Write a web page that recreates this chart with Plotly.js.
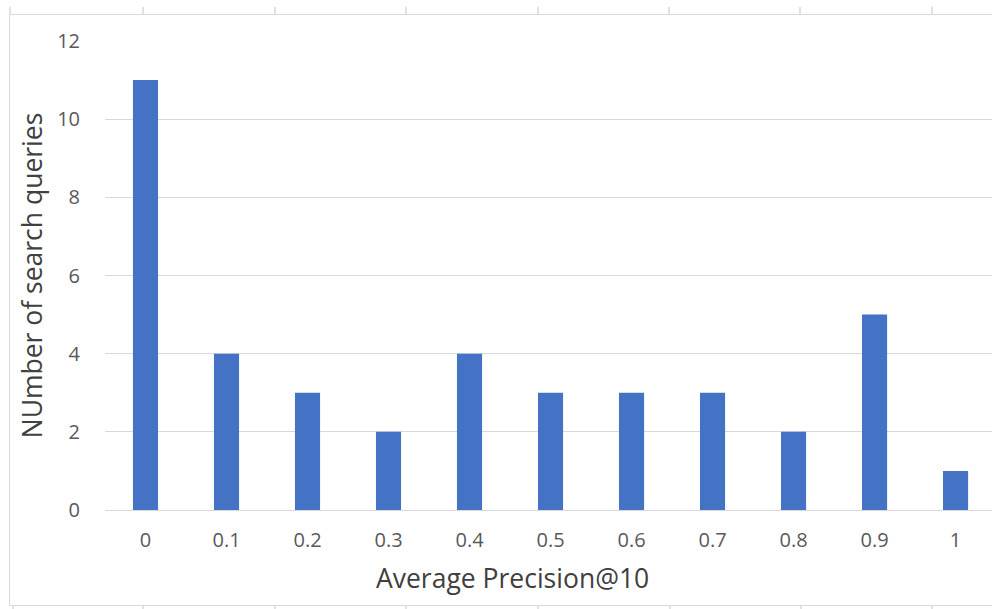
<!DOCTYPE html>
<html>
<head>
<meta charset="utf-8">
<script src="https://cdn.plot.ly/plotly-3.0.1.min.js"></script>
<style>html,body{margin:0;padding:0;background:#fff;}#chart{width:992px;height:609px;}</style>
</head>
<body>
<div id="chart"></div>
<script>
const categories = ["0","0.1","0.2","0.3","0.4","0.5","0.6","0.7","0.8","0.9","1"];
const counts = [11,4,3,2,4,3,3,3,2,5,1];
const yTicks = [0,2,4,6,8,10,12];

const L = 105, T = 41, B = 99, W = 992, H = 609;
const PW = W - L, PH = H - T - B;
const px = x => (x - L) / PW;
const py = y => (H - B - y) / PH;
const border = '#d9d9d9';
const shapes = [
  {type:'rect', xref:'paper', yref:'paper', x0:px(9.5), x1:px(1030), y0:py(605.5), y1:py(14.5), line:{color:border, width:1}, layer:'below'}
];
[10,143,275,406,538,669,800,932].forEach(x => shapes.push({type:'line', xref:'paper', yref:'paper', x0:px(x), x1:px(x), y0:py(7), y1:py(14), line:{color:border, width:1.5}}));
[13,143,275,406,538,670,801,932].forEach(x => shapes.push({type:'line', xref:'paper', yref:'paper', x0:px(x), x1:px(x), y0:py(605), y1:py(612), line:{color:border, width:1.5}}));

const font = '"Open Sans", sans-serif';
Plotly.newPlot('chart', [{
  type:'bar', x:categories, y:counts,
  marker:{color:'#4472C4'}, hoverinfo:'x+y'
}], {
  width:W, height:H,
  margin:{l:L, r:0, t:T, b:B},
  paper_bgcolor:'#fff', plot_bgcolor:'#fff',
  bargap:0.69,
  showlegend:false,
  font:{family:font, color:'#595959', size:20},
  xaxis:{type:'category', range:[-0.5, 10.45], showgrid:false, showline:false, zeroline:false,
         ticks:'', tickfont:{size:20, color:'#595959'}, ticklabelstandoff:16, fixedrange:true},
  yaxis:{range:[0,12], tickvals:yTicks, showgrid:true, gridcolor:border, gridwidth:1,
         zeroline:true, zerolinecolor:border, zerolinewidth:1, showline:false, ticks:'',
         tickfont:{size:20, color:'#595959'}, ticklabelstandoff:24, automargin:false,
         title:{text:'NUmber of search queries', font:{size:26.5, color:'#404040'}, standoff:6}},
  annotations:[{text:'Average Precision@10', xref:'paper', yref:'paper', x:px(512), y:py(578),
                xanchor:'center', yanchor:'middle', showarrow:false, font:{size:26.5, color:'#404040'}}],
  shapes:shapes
}, {displayModeBar:false, staticPlot:true});
</script>
</body>
</html>
